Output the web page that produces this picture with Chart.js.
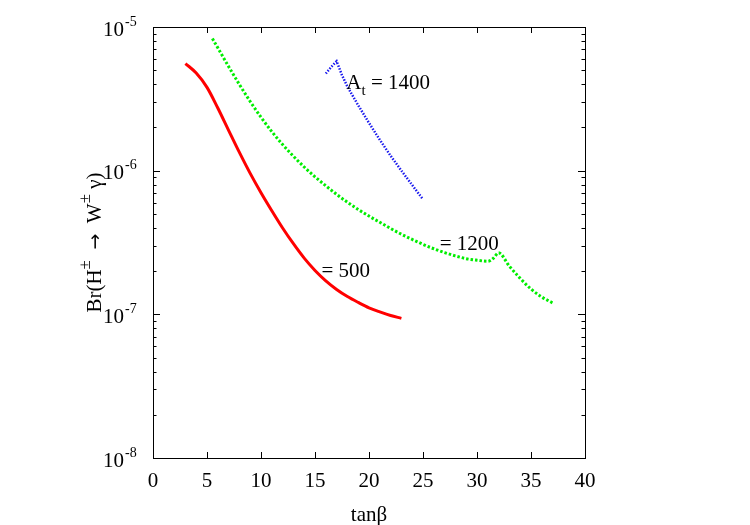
<!DOCTYPE html>
<html>
<head>
<meta charset="utf-8">
<script src="https://cdn.jsdelivr.net/npm/chart.js@4/dist/chart.umd.min.js"></script>
<style>
html,body{margin:0;padding:0;background:#fff;}
#wrap{width:750px;height:525px;position:relative;}
</style>
</head>
<body>
<div id="wrap"><canvas id="c"></canvas></div>
<script>
// ---- data ----
const redX = [3, 4, 5, 6, 7, 8, 9, 10, 11, 12, 13, 14, 15, 16, 17, 18, 19, 20, 21, 22, 23];
const redY = [5.57e-6, 4.78e-6, 3.80e-6, 2.73e-6, 1.91e-6, 1.34e-6, 9.57e-7, 7.02e-7, 5.26e-7, 3.99e-7, 3.10e-7,
              2.46e-7, 2.02e-7, 1.71e-7, 1.49e-7, 1.33e-7, 1.21e-7, 1.11e-7, 1.04e-7, 9.82e-8, 9.38e-8];

const greenX = [5.5, 6, 7, 8, 9, 10, 11, 12, 13, 14, 15, 16, 17, 18, 19, 20, 21, 22, 23, 24, 25, 26, 27, 28, 29, 30, 31, 31.5, 32, 33, 34, 35, 36, 37];
const greenY = [8.32e-6, 7.16e-6, 5.31e-6, 3.98e-6, 3.03e-6, 2.355e-6, 1.87e-6, 1.52e-6, 1.26e-6, 1.06e-6, 9.06e-7,
                7.85e-7, 6.84e-7, 6.03e-7, 5.37e-7, 4.83e-7, 4.37e-7, 3.96e-7, 3.61e-7, 3.32e-7, 3.07e-7, 2.86e-7,
                2.69e-7, 2.55e-7, 2.44e-7, 2.38e-7, 2.34e-7, 2.45e-7, 2.68e-7, 2.16e-7, 1.78e-7, 1.50e-7, 1.32e-7, 1.20e-7];

const blueX = [16, 16.5, 17, 17.5, 18, 19, 20, 21, 22, 23, 24, 25];
const blueY = [4.74e-6, 5.27e-6, 5.78e-6, 4.62e-6, 3.85e-6, 2.85e-6, 2.15e-6, 1.64e-6, 1.27e-6, 1.0e-6, 7.94e-7, 6.31e-7];

const xTickValues = [0, 5, 10, 15, 20, 25, 30, 35, 40];
const yDecadeValues = [1e-8, 1e-7, 1e-6, 1e-5];
const yDecadeExponents = ['-8', '-7', '-6', '-5'];

const curveLabels = [
  {x: 17.9, y: 3.69e-6, parts: [['A', 0], ['t', 1], [' = 1400', 0]], baseline: 'alphabetic'},
  {x: 26.55, y: 3.04e-7, parts: [['= 1200', 0]], baseline: 'middle'},
  {x: 15.6, y: 1.99e-7, parts: [['= 500', 0]], baseline: 'middle'}
];
const xTitle = 'tanβ';

// ---- build ----
function pts(xs, ys){ return xs.map((v,i)=>({x:v, y:ys[i]})); }
const SERIF = '"Liberation Serif", "DejaVu Serif", serif';

const framePlugin = {
  id: 'frame',
  afterDraw(chart){
    const {ctx, chartArea:a, scales:{x, y}} = chart;
    ctx.save();
    ctx.strokeStyle = '#000';
    ctx.lineWidth = 1;
    ctx.strokeRect(Math.round(a.left)+0.5, Math.round(a.top)+0.5, Math.round(a.right-a.left), Math.round(a.bottom-a.top));
    ctx.beginPath();
    xTickValues.forEach(v=>{
      const px = Math.round(x.getPixelForValue(v))+0.5;
      ctx.moveTo(px, a.bottom); ctx.lineTo(px, a.bottom-6);
      ctx.moveTo(px, a.top); ctx.lineTo(px, a.top+6);
    });
    for (let d=0; d<yDecadeValues.length; d++){
      const base = yDecadeValues[d];
      for (let m=1; m<=9; m++){
        const v = base*m;
        if (v > 1e-5*1.0001) break;
        const py = Math.round(y.getPixelForValue(v))+0.5;
        const len = (m===1) ? 7 : 3.5;
        ctx.moveTo(a.left, py); ctx.lineTo(a.left+len, py);
        ctx.moveTo(a.right, py); ctx.lineTo(a.right-len, py);
      }
    }
    ctx.stroke();

    ctx.fillStyle = '#000';
    ctx.font = '21px ' + SERIF;
    ctx.textAlign = 'center';
    ctx.textBaseline = 'middle';
    xTickValues.forEach(v=>{
      ctx.fillText(String(v), x.getPixelForValue(v), a.bottom+23);
    });
    ctx.fillText(xTitle, (a.left+a.right)/2, a.bottom+57);

    yDecadeValues.forEach((v,i)=>{
      const py = y.getPixelForValue(v);
      ctx.font = '21px ' + SERIF;
      ctx.textAlign = 'right';
      ctx.textBaseline = 'middle';
      ctx.fillText('10', 124, py+3);
      ctx.font = '14px ' + SERIF;
      ctx.textAlign = 'left';
      ctx.fillText(yDecadeExponents[i], 125, py-5);
    });

    // y title, rotated
    const parts = [['Br(H',0,SERIF],['±',1,SERIF],['  ',0,SERIF],['→',2,'"DejaVu Sans", sans-serif'],['  W',0,SERIF],['±',1,SERIF],[' γ)',0,SERIF]];
    const sizeOf = p => p[1]===1 ? 17 : (p[1]===2 ? 19 : 21);
    ctx.save();
    ctx.translate(94, (a.top+a.bottom)/2);
    ctx.rotate(-Math.PI/2);
    ctx.textAlign = 'left';
    ctx.textBaseline = 'alphabetic';
    let total = 0;
    parts.forEach(p=>{ ctx.font = sizeOf(p)+'px '+p[2]; total += ctx.measureText(p[0]).width; });
    let cx = -total/2;
    parts.forEach(p=>{
      ctx.font = sizeOf(p)+'px '+p[2];
      ctx.fillText(p[0], cx, p[1]===1 ? -4 : 7);
      cx += ctx.measureText(p[0]).width;
    });
    ctx.restore();

    curveLabels.forEach(l=>{
      let px = x.getPixelForValue(l.x);
      const py = y.getPixelForValue(l.y);
      ctx.textAlign = 'left';
      ctx.textBaseline = l.baseline;
      l.parts.forEach(p=>{
        ctx.font = (p[1]?'15px ':'21px ')+SERIF;
        ctx.fillText(p[0], px, py + (p[1] ? 6 : 0));
        px += ctx.measureText(p[0]).width;
      });
    });
    ctx.restore();
  }
};

new Chart(document.getElementById('c'), {
  type: 'line',
  data: {
    datasets: [
      {label: 'A_t = 500', data: pts(redX, redY), borderColor: '#ff0000', borderWidth: 3,
       pointRadius: 0, cubicInterpolationMode: 'monotone', fill: false},
      {label: 'A_t = 1200', data: pts(greenX, greenY), borderColor: '#00ee00', borderWidth: 3,
       borderDash: [2.5, 2], pointRadius: 0, cubicInterpolationMode: 'monotone', fill: false},
      {label: 'A_t = 1400', data: pts(blueX, blueY), borderColor: '#1a1aee', borderWidth: 2.5,
       borderDash: [1.5, 1.5], pointRadius: 0, tension: 0, fill: false}
    ]
  },
  options: {
    responsive: true,
    maintainAspectRatio: false,
    devicePixelRatio: 1,
    animation: false,
    layout: {padding: {left: 153, top: 27, right: 165, bottom: 67}},
    plugins: {legend: {display: false}, tooltip: {enabled: false}},
    scales: {
      x: {type: 'linear', min: 0, max: 40, display: false},
      y: {type: 'logarithmic', min: 1e-8, max: 1e-5, display: false}
    }
  },
  plugins: [framePlugin]
});
</script>
</body>
</html>
